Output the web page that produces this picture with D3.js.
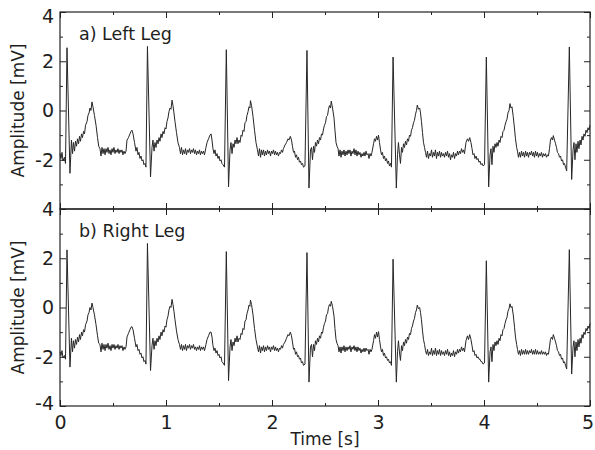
<!DOCTYPE html>
<html>
<head>
<meta charset="utf-8">
<script src="https://cdn.jsdelivr.net/npm/d3@7"></script>
<style>
  body { margin: 0; background: #fff; }
  svg text { font-family: 'DejaVu Sans', sans-serif; fill: #1e1e1e; }
</style>
</head>
<body>
<div id="chart"></div>
<script>
// time [s], one line per stretch of the trace
const time = [
  0.000, 0.009, 0.019, 0.028, 0.042, 0.052, 0.066, 0.094,
  0.108, 0.118, 0.127, 0.137, 0.146, 0.156, 0.165, 0.175, 0.184, 0.193, 0.203, 0.212, 0.222, 0.231, 0.241,
  0.255, 0.264, 0.274, 0.283, 0.292, 0.302, 0.311, 0.325, 0.340, 0.354, 0.365,
  0.377, 0.387, 0.396, 0.406, 0.415, 0.425, 0.434, 0.443, 0.453, 0.462, 0.472, 0.481, 0.491, 0.500, 0.509, 0.519, 0.528, 0.538, 0.547, 0.557, 0.566, 0.575, 0.585, 0.594, 0.604, 0.613, 0.623,
  0.632, 0.646, 0.660, 0.670, 0.679, 0.689, 0.703, 0.717, 0.726, 0.736, 0.745, 0.755, 0.764, 0.774, 0.783, 0.792, 0.802, 0.811,
  0.825, 0.854, 0.868, 0.877, 0.887, 0.896, 0.906, 0.915, 0.925, 0.934, 0.943, 0.953, 0.962, 0.972, 0.981, 0.991, 1.000,
  1.009, 1.019, 1.028, 1.038, 1.047, 1.057, 1.066, 1.075, 1.085, 1.099, 1.113, 1.127,
  1.137, 1.146, 1.156, 1.165, 1.175, 1.184, 1.193, 1.203, 1.212, 1.222, 1.231, 1.241, 1.250, 1.259, 1.269, 1.278, 1.288, 1.297, 1.307, 1.316, 1.325, 1.335, 1.344, 1.354, 1.363,
  1.377, 1.387, 1.401, 1.415, 1.425, 1.434, 1.443, 1.453, 1.462, 1.472, 1.481, 1.491, 1.500, 1.509, 1.519, 1.528, 1.538, 1.552,
  1.569, 1.590, 1.604, 1.613, 1.623, 1.632, 1.642, 1.651, 1.660, 1.670, 1.679, 1.689, 1.698, 1.708, 1.717, 1.726, 1.736, 1.745, 1.755, 1.764, 1.774, 1.783, 1.792, 1.797, 1.807, 1.821, 1.835, 1.849, 1.863,
  1.873, 1.882, 1.892, 1.901, 1.910, 1.920, 1.929, 1.939, 1.948, 1.958, 1.967, 1.976, 1.986, 1.995, 2.005, 2.014, 2.024, 2.033, 2.042, 2.052, 2.061, 2.071, 2.080, 2.090, 2.099, 2.108,
  2.123, 2.137, 2.151, 2.160, 2.173, 2.184, 2.193, 2.203, 2.212, 2.222, 2.231, 2.241, 2.250, 2.259, 2.269, 2.278, 2.288, 2.297, 2.311,
  2.330, 2.349, 2.363, 2.373, 2.382, 2.392, 2.401, 2.410, 2.420, 2.429, 2.439, 2.448, 2.458, 2.467, 2.476, 2.486, 2.495, 2.505, 2.514, 2.524, 2.533, 2.542, 2.552, 2.559, 2.571, 2.585, 2.594, 2.604, 2.613, 2.623,
  2.632, 2.642, 2.651, 2.660, 2.670, 2.679, 2.689, 2.698, 2.708, 2.717, 2.726, 2.736, 2.745, 2.755, 2.764, 2.774, 2.783, 2.792, 2.802, 2.811, 2.821, 2.830, 2.840, 2.849, 2.858, 2.868, 2.877, 2.887, 2.896, 2.906, 2.915, 2.925, 2.934, 2.943,
  2.958, 2.967, 2.976, 2.986, 2.995, 3.005, 3.014, 3.024, 3.033, 3.042, 3.052, 3.061, 3.071, 3.080, 3.090, 3.099, 3.108, 3.118, 3.127,
  3.142, 3.173, 3.184, 3.193, 3.203, 3.212, 3.222, 3.231, 3.241, 3.250, 3.259, 3.269, 3.278, 3.288, 3.297, 3.307, 3.316, 3.325, 3.335, 3.344, 3.354, 3.363, 3.371, 3.382, 3.393, 3.401, 3.410, 3.420, 3.429, 3.439,
  3.448, 3.458, 3.467, 3.476, 3.486, 3.495, 3.505, 3.514, 3.524, 3.533, 3.542, 3.552, 3.561, 3.571, 3.580, 3.590, 3.599, 3.608, 3.618, 3.627, 3.637, 3.646, 3.656, 3.665, 3.675, 3.684, 3.693, 3.703, 3.712, 3.722, 3.731, 3.741, 3.750, 3.759, 3.769, 3.778, 3.788, 3.797, 3.807, 3.816,
  3.830, 3.844, 3.854, 3.865, 3.877, 3.887, 3.896, 3.906, 3.915, 3.925, 3.934, 3.943, 3.953, 3.962, 3.972, 3.981, 3.991, 4.005,
  4.022, 4.044, 4.057, 4.066, 4.075, 4.085, 4.094, 4.104, 4.113, 4.123, 4.132, 4.142, 4.151, 4.160, 4.170, 4.179, 4.189, 4.198, 4.208, 4.217, 4.226, 4.236, 4.245, 4.255, 4.264, 4.276, 4.288, 4.297, 4.308,
  4.316, 4.325, 4.335, 4.344, 4.354, 4.363, 4.373, 4.382, 4.392, 4.401, 4.410, 4.420, 4.429, 4.439, 4.448, 4.458, 4.467, 4.476, 4.486, 4.495, 4.505, 4.514, 4.524, 4.533, 4.542, 4.552, 4.561, 4.571, 4.580, 4.590, 4.599, 4.608,
  4.618, 4.627, 4.637, 4.646, 4.654, 4.665, 4.675, 4.684, 4.693, 4.703, 4.712, 4.722, 4.731, 4.741, 4.750, 4.759, 4.769, 4.780,
  4.805, 4.827, 4.840, 4.849, 4.858, 4.868, 4.877, 4.887, 4.896, 4.906, 4.915, 4.925, 4.934, 4.943, 4.953, 4.962, 4.972, 4.981, 4.991, 5.000
];

// amplitude [mV], left leg
const leftLeg = [
  -1.75, -1.95, -1.7, -2.05, -1.9, -2.15, 2.55, -2.55,
  -1.2, -1.75, -1.3, -1.65, -1.25, -1.45, -1.15, -1.35, -1.05, -1.25, -0.95, -1.1, -0.85, -0.95, -0.6,
  -0.45, -0.2, -0.1, 0.1, 0.0, 0.35, 0.15, -0.2, -0.6, -1.1, -1.45,
  -1.55, -1.85, -1.5, -1.75, -1.55, -1.8, -1.55, -1.7, -1.5, -1.75, -1.6, -1.8, -1.55, -1.7, -1.5, -1.75, -1.6, -1.7, -1.55, -1.75, -1.6, -1.7, -1.6, -1.8, -1.65, -1.75, -1.65,
  -1.2, -1.1, -0.95, -0.85, -0.8, -0.95, -1.3, -1.65, -1.5, -1.8, -1.7, -1.95, -1.85, -2.05, -2.0, -2.2, -2.15, -2.3,
  2.6, -2.7, -1.5, -1.2, -1.65, -1.3, -1.5, -1.2, -1.35, -1.1, -1.25, -0.95, -1.1, -0.85, -0.95, -0.7, -0.75,
  -0.45, -0.3, -0.05, 0.1, 0.05, 0.42, 0.2, -0.1, -0.45, -0.9, -1.3, -1.5,
  -1.75, -1.5, -1.8, -1.6, -1.75, -1.55, -1.8, -1.6, -1.7, -1.55, -1.75, -1.6, -1.7, -1.55, -1.75, -1.6, -1.8, -1.65, -1.75, -1.6, -1.8, -1.65, -1.75, -1.65, -1.8,
  -1.5, -1.3, -1.15, -1.0, -0.95, -1.2, -1.55, -1.75, -1.6, -1.85, -1.75, -1.95, -1.85, -2.05, -2.0, -2.15, -2.2, -2.3,
  2.47, -3.1, -1.6, -1.3, -1.75, -1.35, -1.5, -1.2, -1.35, -1.1, -1.35, -1.2, -1.3, -1.0, -1.05, -0.8, -0.85, -0.5, -0.45, -0.2, -0.05, 0.15, 0.1, 0.4, 0.2, -0.25, -0.8, -1.3, -1.6,
  -1.85, -1.55, -1.9, -1.6, -1.8, -1.6, -1.85, -1.65, -1.8, -1.6, -1.75, -1.65, -1.85, -1.65, -1.75, -1.6, -1.8, -1.65, -1.8, -1.7, -1.85, -1.7, -1.75, -1.6, -1.7, -1.55,
  -1.4, -1.3, -1.15, -1.2, -1.05, -1.2, -1.45, -1.7, -1.65, -1.9, -1.8, -2.0, -1.9, -2.1, -2.05, -2.2, -2.15, -2.3, -2.25,
  2.44, -3.15, -1.6, -1.5, -2.0, -1.45, -1.7, -1.3, -1.45, -1.2, -1.35, -1.1, -1.2, -0.95, -1.0, -0.75, -0.6, -0.5, -0.25, -0.2, 0.05, 0.2, 0.1, 0.38, 0.1, -0.3, -0.8, -1.3, -1.45, -1.55,
  -1.85, -1.6, -1.9, -1.65, -1.8, -1.6, -1.85, -1.65, -1.8, -1.6, -1.75, -1.6, -1.85, -1.65, -1.75, -1.55, -1.8, -1.6, -1.85, -1.65, -1.8, -1.7, -1.9, -1.75, -1.85, -1.7, -1.85, -1.65, -1.8, -1.75, -1.95, -1.75, -1.85, -1.7,
  -1.35, -1.15, -1.25, -1.05, -1.2, -1.0, -1.3, -1.6, -1.8, -1.7, -1.95, -1.85, -2.05, -1.95, -2.15, -2.05, -2.25, -2.15, -2.3,
  2.17, -3.15, -1.8, -1.3, -1.8, -2.15, -1.5, -1.7, -1.35, -1.5, -1.25, -1.4, -1.15, -1.25, -1.0, -1.05, -0.8, -0.7, -0.5, -0.4, -0.15, 0.0, 0.22, 0.05, 0.1, -0.1, -0.45, -0.9, -1.3, -1.5,
  -1.7, -1.9, -1.65, -1.95, -1.75, -1.85, -1.6, -1.9, -1.7, -1.85, -1.6, -1.95, -1.7, -1.85, -1.65, -1.9, -1.7, -1.85, -1.75, -1.9, -1.7, -1.85, -1.65, -1.9, -1.75, -2.0, -1.8, -1.9, -1.7, -1.95, -1.75, -1.85, -1.65, -1.8, -1.65, -1.75, -1.55, -1.7, -1.6, -1.75,
  -1.3, -1.15, -1.25, -1.1, -1.3, -1.55, -1.8, -1.75, -1.95, -1.85, -2.0, -1.95, -2.1, -2.05, -2.2, -2.15, -2.25, -2.2,
  2.17, -3.1, -1.8, -1.55, -2.2, -1.45, -1.7, -1.35, -1.5, -1.3, -1.45, -1.2, -1.3, -1.05, -1.1, -0.85, -0.8, -0.6, -0.45, -0.35, -0.1, 0.0, 0.28, 0.1, 0.15, -0.25, -0.75, -1.15, -1.5,
  -1.65, -1.9, -1.7, -1.9, -1.65, -1.85, -1.7, -1.9, -1.65, -1.85, -1.7, -1.9, -1.7, -1.8, -1.65, -1.85, -1.7, -1.9, -1.65, -1.85, -1.7, -1.9, -1.75, -1.85, -1.7, -1.9, -1.75, -1.85, -1.75, -1.9, -1.8, -1.85,
  -1.55, -1.2, -1.1, -1.2, -1.02, -1.2, -1.35, -1.5, -1.7, -1.75, -1.9, -1.85, -2.05, -2.0, -2.2, -2.15, -2.3, -2.45,
  2.58, -2.8, -1.6, -1.3, -2.0, -1.35, -1.7, -1.25, -1.55, -1.2, -1.4, -1.05, -1.2, -0.95, -1.05, -0.8, -0.9, -0.7, -0.8, -0.6
];

// amplitude [mV], right leg
const rightLeg = [
  -1.8, -1.95, -1.75, -2.05, -1.95, -2.1, 2.34, -2.42,
  -1.25, -1.8, -1.35, -1.65, -1.3, -1.5, -1.2, -1.4, -1.1, -1.3, -1.0, -1.15, -0.9, -1.0, -0.7,
  -0.55, -0.3, -0.2, 0.0, -0.1, 0.18, 0.0, -0.3, -0.7, -1.15, -1.45,
  -1.5, -1.8, -1.45, -1.7, -1.5, -1.75, -1.5, -1.65, -1.45, -1.7, -1.55, -1.75, -1.5, -1.65, -1.5, -1.7, -1.55, -1.65, -1.5, -1.7, -1.55, -1.65, -1.55, -1.75, -1.6, -1.7, -1.6,
  -1.2, -1.05, -0.9, -0.8, -0.78, -0.9, -1.25, -1.6, -1.5, -1.75, -1.7, -1.9, -1.85, -2.05, -2.0, -2.2, -2.15, -2.3,
  2.6, -2.56, -1.55, -1.25, -1.7, -1.35, -1.55, -1.25, -1.4, -1.15, -1.3, -1.0, -1.15, -0.9, -1.0, -0.75, -0.8,
  -0.5, -0.35, -0.1, 0.05, 0.0, 0.33, 0.12, -0.15, -0.5, -0.95, -1.3, -1.5,
  -1.7, -1.5, -1.75, -1.55, -1.7, -1.5, -1.75, -1.55, -1.65, -1.5, -1.7, -1.55, -1.65, -1.5, -1.7, -1.6, -1.75, -1.6, -1.7, -1.55, -1.75, -1.6, -1.7, -1.6, -1.75,
  -1.5, -1.3, -1.15, -1.0, -1.0, -1.2, -1.55, -1.75, -1.65, -1.85, -1.75, -1.95, -1.9, -2.05, -2.0, -2.2, -2.25, -2.35,
  2.27, -2.97, -1.6, -1.3, -1.75, -1.4, -1.55, -1.25, -1.4, -1.15, -1.4, -1.25, -1.3, -1.05, -1.1, -0.85, -0.9, -0.55, -0.5, -0.25, -0.1, 0.1, 0.05, 0.3, 0.12, -0.3, -0.85, -1.3, -1.6,
  -1.8, -1.55, -1.85, -1.6, -1.75, -1.55, -1.8, -1.6, -1.75, -1.55, -1.7, -1.6, -1.8, -1.6, -1.7, -1.55, -1.75, -1.6, -1.75, -1.65, -1.8, -1.65, -1.7, -1.55, -1.65, -1.5,
  -1.4, -1.25, -1.1, -1.15, -1.0, -1.15, -1.4, -1.7, -1.65, -1.9, -1.8, -2.0, -1.95, -2.1, -2.05, -2.25, -2.2, -2.35, -2.3,
  2.23, -3.03, -1.6, -1.5, -2.0, -1.5, -1.75, -1.35, -1.5, -1.25, -1.4, -1.15, -1.25, -1.0, -1.05, -0.8, -0.65, -0.55, -0.3, -0.25, 0.0, 0.12, 0.05, 0.25, 0.05, -0.35, -0.85, -1.3, -1.45, -1.55,
  -1.8, -1.6, -1.85, -1.6, -1.75, -1.55, -1.8, -1.6, -1.75, -1.6, -1.7, -1.55, -1.8, -1.6, -1.7, -1.55, -1.75, -1.6, -1.8, -1.6, -1.75, -1.65, -1.85, -1.7, -1.8, -1.65, -1.8, -1.65, -1.75, -1.7, -1.9, -1.7, -1.8, -1.7,
  -1.35, -1.1, -1.25, -1.0, -1.2, -0.98, -1.3, -1.6, -1.8, -1.7, -1.95, -1.85, -2.05, -2.0, -2.15, -2.1, -2.25, -2.2, -2.35,
  1.96, -3.03, -1.8, -1.35, -1.85, -2.15, -1.55, -1.75, -1.4, -1.55, -1.3, -1.45, -1.2, -1.3, -1.05, -1.1, -0.85, -0.75, -0.55, -0.45, -0.2, -0.1, 0.1, -0.05, 0.0, -0.2, -0.5, -0.95, -1.3, -1.5,
  -1.75, -1.9, -1.7, -1.95, -1.8, -1.9, -1.65, -1.95, -1.75, -1.9, -1.65, -1.95, -1.75, -1.9, -1.7, -1.95, -1.75, -1.9, -1.8, -1.95, -1.75, -1.9, -1.7, -1.95, -1.8, -2.0, -1.85, -1.95, -1.75, -2.0, -1.8, -1.9, -1.7, -1.85, -1.7, -1.8, -1.6, -1.75, -1.65, -1.8,
  -1.35, -1.15, -1.3, -1.1, -1.3, -1.55, -1.8, -1.75, -1.95, -1.9, -2.05, -2.0, -2.1, -2.1, -2.2, -2.2, -2.3, -2.25,
  1.9, -3.03, -1.8, -1.6, -2.2, -1.5, -1.75, -1.4, -1.55, -1.35, -1.5, -1.25, -1.35, -1.1, -1.15, -0.9, -0.85, -0.65, -0.5, -0.4, -0.15, -0.05, 0.15, 0.0, 0.05, -0.3, -0.8, -1.2, -1.5,
  -1.7, -1.9, -1.75, -1.95, -1.7, -1.9, -1.75, -1.9, -1.7, -1.9, -1.75, -1.9, -1.75, -1.85, -1.7, -1.9, -1.75, -1.9, -1.7, -1.9, -1.75, -1.9, -1.8, -1.9, -1.75, -1.9, -1.8, -1.9, -1.8, -1.95, -1.85, -1.9,
  -1.6, -1.3, -1.2, -1.3, -1.1, -1.25, -1.4, -1.55, -1.75, -1.8, -1.95, -1.9, -2.1, -2.05, -2.25, -2.2, -2.35, -2.5,
  2.35, -2.7, -1.6, -1.35, -2.0, -1.4, -1.75, -1.3, -1.6, -1.25, -1.45, -1.1, -1.25, -1.0, -1.1, -0.85, -0.95, -0.75, -0.85, -0.65
];

const xMajorTicks = [0, 1, 2, 3, 4, 5];
const xMinorTicks = [0.5, 1.5, 2.5, 3.5, 4.5];
const yMajorTicks = [-4, -2, 0, 2, 4];
const yMinorTicks = [-3, -1, 1, 3];
const panelLabels = ['a) Left Leg', 'b) Right Leg'];

if (leftLeg.length !== time.length || rightLeg.length !== time.length) {
  throw new Error(`length mismatch: time ${time.length}, left ${leftLeg.length}, right ${rightLeg.length}`);
}

const width = 595;
const height = 450;
const plotLeft = 60;
const plotRight = 590;

// two stacked panels sharing one border
const panels = [
  { top: 12, bottom: 209, values: leftLeg, label: panelLabels[0] },
  { top: 209, bottom: 406, values: rightLeg, label: panelLabels[1] },
];

const svg = d3.select('#chart').append('svg')
  .attr('width', width)
  .attr('height', height);

const xScale = d3.scaleLinear().domain([0, 5]).range([plotLeft, plotRight]);
// plain hyphen for negatives, like the original figure
const plainNumber = (d) => String(d);

panels.forEach((p, i) => {
  const yScale = d3.scaleLinear().domain([-4, 4]).range([p.bottom, p.top]);
  const g = svg.append('g');

  // signal
  const line = d3.line()
    .x((k) => xScale(time[k]))
    .y((k) => yScale(p.values[k]));
  g.append('path')
    .datum(d3.range(time.length))
    .attr('d', line)
    .attr('fill', 'none')
    .attr('stroke', '#262626')
    .attr('stroke-width', 1)
    .attr('stroke-linejoin', 'round');

  // ticks on all four sides, pointing inwards
  const addAxis = (axis, tx, ty, cls) => {
    const ag = g.append('g')
      .attr('class', cls)
      .attr('transform', `translate(${tx},${ty})`)
      .call(axis);
    ag.select('.domain').remove();
    ag.selectAll('line').attr('stroke', '#222').attr('stroke-width', 1);
    return ag;
  };

  const yLabels = addAxis(d3.axisLeft(yScale).tickValues(yMajorTicks).tickSize(-6).tickPadding(6)
    .tickFormat(plainNumber), plotLeft, 0, 'y-axis');
  addAxis(d3.axisLeft(yScale).tickValues(yMinorTicks).tickSize(-3).tickFormat(''), plotLeft, 0, 'y-minor');
  addAxis(d3.axisRight(yScale).tickValues(yMajorTicks).tickSize(-6).tickFormat(''), plotRight, 0, 'y-right');
  addAxis(d3.axisRight(yScale).tickValues(yMinorTicks).tickSize(-3).tickFormat(''), plotRight, 0, 'y-right-minor');
  addAxis(d3.axisTop(xScale).tickValues(xMajorTicks).tickSize(-6).tickFormat(''), 0, p.top, 'x-top');
  addAxis(d3.axisTop(xScale).tickValues(xMinorTicks).tickSize(-3).tickFormat(''), 0, p.top, 'x-top-minor');
  addAxis(d3.axisBottom(xScale).tickValues(xMinorTicks).tickSize(-3).tickFormat(''), 0, p.bottom, 'x-minor');
  const xLabels = addAxis(d3.axisBottom(xScale).tickValues(xMajorTicks).tickSize(-6).tickPadding(10)
    .tickFormat(i === panels.length - 1 ? plainNumber : ''), 0, p.bottom, 'x-axis');

  yLabels.selectAll('text')
    .style('font-size', '19px')
    .attr('fill', '#1e1e1e')
    .attr('dy', (d) => (d === 4 && i === 0 ? '0.55em' : d === -4 ? '0.18em' : '0.34em'))
    .style('display', (d) => (d === -4 && i === 0 ? 'none' : null));
  xLabels.selectAll('text')
    .style('font-size', '19px')
    .attr('fill', '#1e1e1e')
    .attr('dx', (d) => (d === 5 ? -2.5 : 0)); // keep the last label inside the page

  // frame
  g.append('rect')
    .attr('x', plotLeft)
    .attr('y', p.top)
    .attr('width', plotRight - plotLeft)
    .attr('height', p.bottom - p.top)
    .attr('fill', 'none')
    .attr('stroke', '#222')
    .attr('stroke-width', 1.2);

  // panel label
  g.append('text')
    .attr('x', 79)
    .attr('y', p.top + 28)
    .style('font-size', '17.5px')
    .text(p.label);

  // y axis title
  g.append('text')
    .attr('transform', `translate(24,${(p.top + p.bottom) / 2}) rotate(-90)`)
    .attr('text-anchor', 'middle')
    .style('font-size', '17px')
    .text('Amplitude [mV]');
});

svg.append('text')
  .attr('x', (plotLeft + plotRight) / 2)
  .attr('y', 445)
  .attr('text-anchor', 'middle')
  .style('font-size', '17px')
  .text('Time [s]');
</script>
</body>
</html>
